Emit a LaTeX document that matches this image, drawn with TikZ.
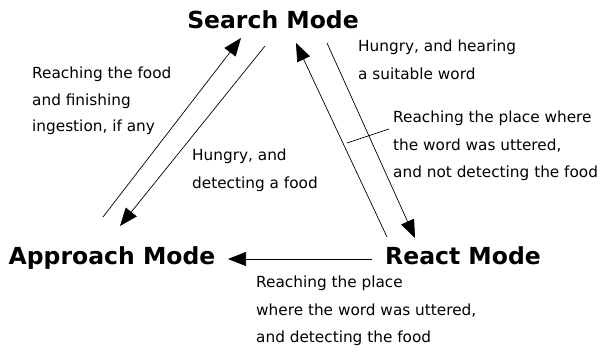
\documentclass[tikz,border=0pt]{standalone}
\usepackage{fontspec}
\setmainfont{DejaVu Sans}
\usetikzlibrary{arrows.meta}

\begin{document}
\begin{tikzpicture}[x=1pt,y=-1pt,
		mode/.style={font=\fontsize{23.5}{23.5}\selectfont\bfseries, inner sep=0pt},
		cond/.style={font=\fontsize{15.3}{27.5}\selectfont, align=left, anchor=north west, inner sep=0pt},
		trans/.style={-{Triangle[length=18pt,width=14pt]}, line width=0.7pt}]
		\useasboundingbox (0,0) rectangle (600,352);
		% the three modes
		\node[mode] (search) at (273,20) {Search Mode};
		\node[mode] (approach) at (112,258) {Approach Mode};
		\node[mode] (react) at (463,256) {React Mode};
		% ends of the transitions
		\coordinate (sa-in) at (241,38);
		\coordinate (sa-out) at (265,46);
		\coordinate (as-out) at (103,217);
		\coordinate (as-in) at (120,226);
		\coordinate (sr-out) at (327,43);
		\coordinate (sr-in) at (415,238);
		\coordinate (rs-out) at (387,237);
		\coordinate (rs-in) at (296,43);
		\coordinate (ra-out) at (372,259);
		\coordinate (ra-in) at (228,259);
		\draw[trans] (as-out) -- (sa-in);
		\draw[trans] (sa-out) -- (as-in);
		\draw[trans] (sr-out) -- (sr-in);
		\draw[trans] (rs-out) -- (rs-in);
		\draw[trans] (ra-out) -- (ra-in);
		% conditions
		\node[cond, font=\fontsize{15.3}{26.5}\selectfont] (food) at (32,67) {Reaching the food\\and finishing\\ingestion, if any};
		\node[cond] (detect) at (192,149) {Hungry, and\\detecting a food};
		\node[cond] (hear) at (358,40) {Hungry, and hearing\\a suitable word};
		\node[cond] (place) at (393,111) {Reaching the place where\\the word was uttered,\\and not detecting the food};
		\node[cond] (found) at (256,276) {Reaching the place\\where the word was uttered,\\and detecting the food};
		\coordinate (lead) at (347,143);
		\draw[line width=0.7pt] (lead) -- (389,129);
	\end{tikzpicture}
\end{document}
